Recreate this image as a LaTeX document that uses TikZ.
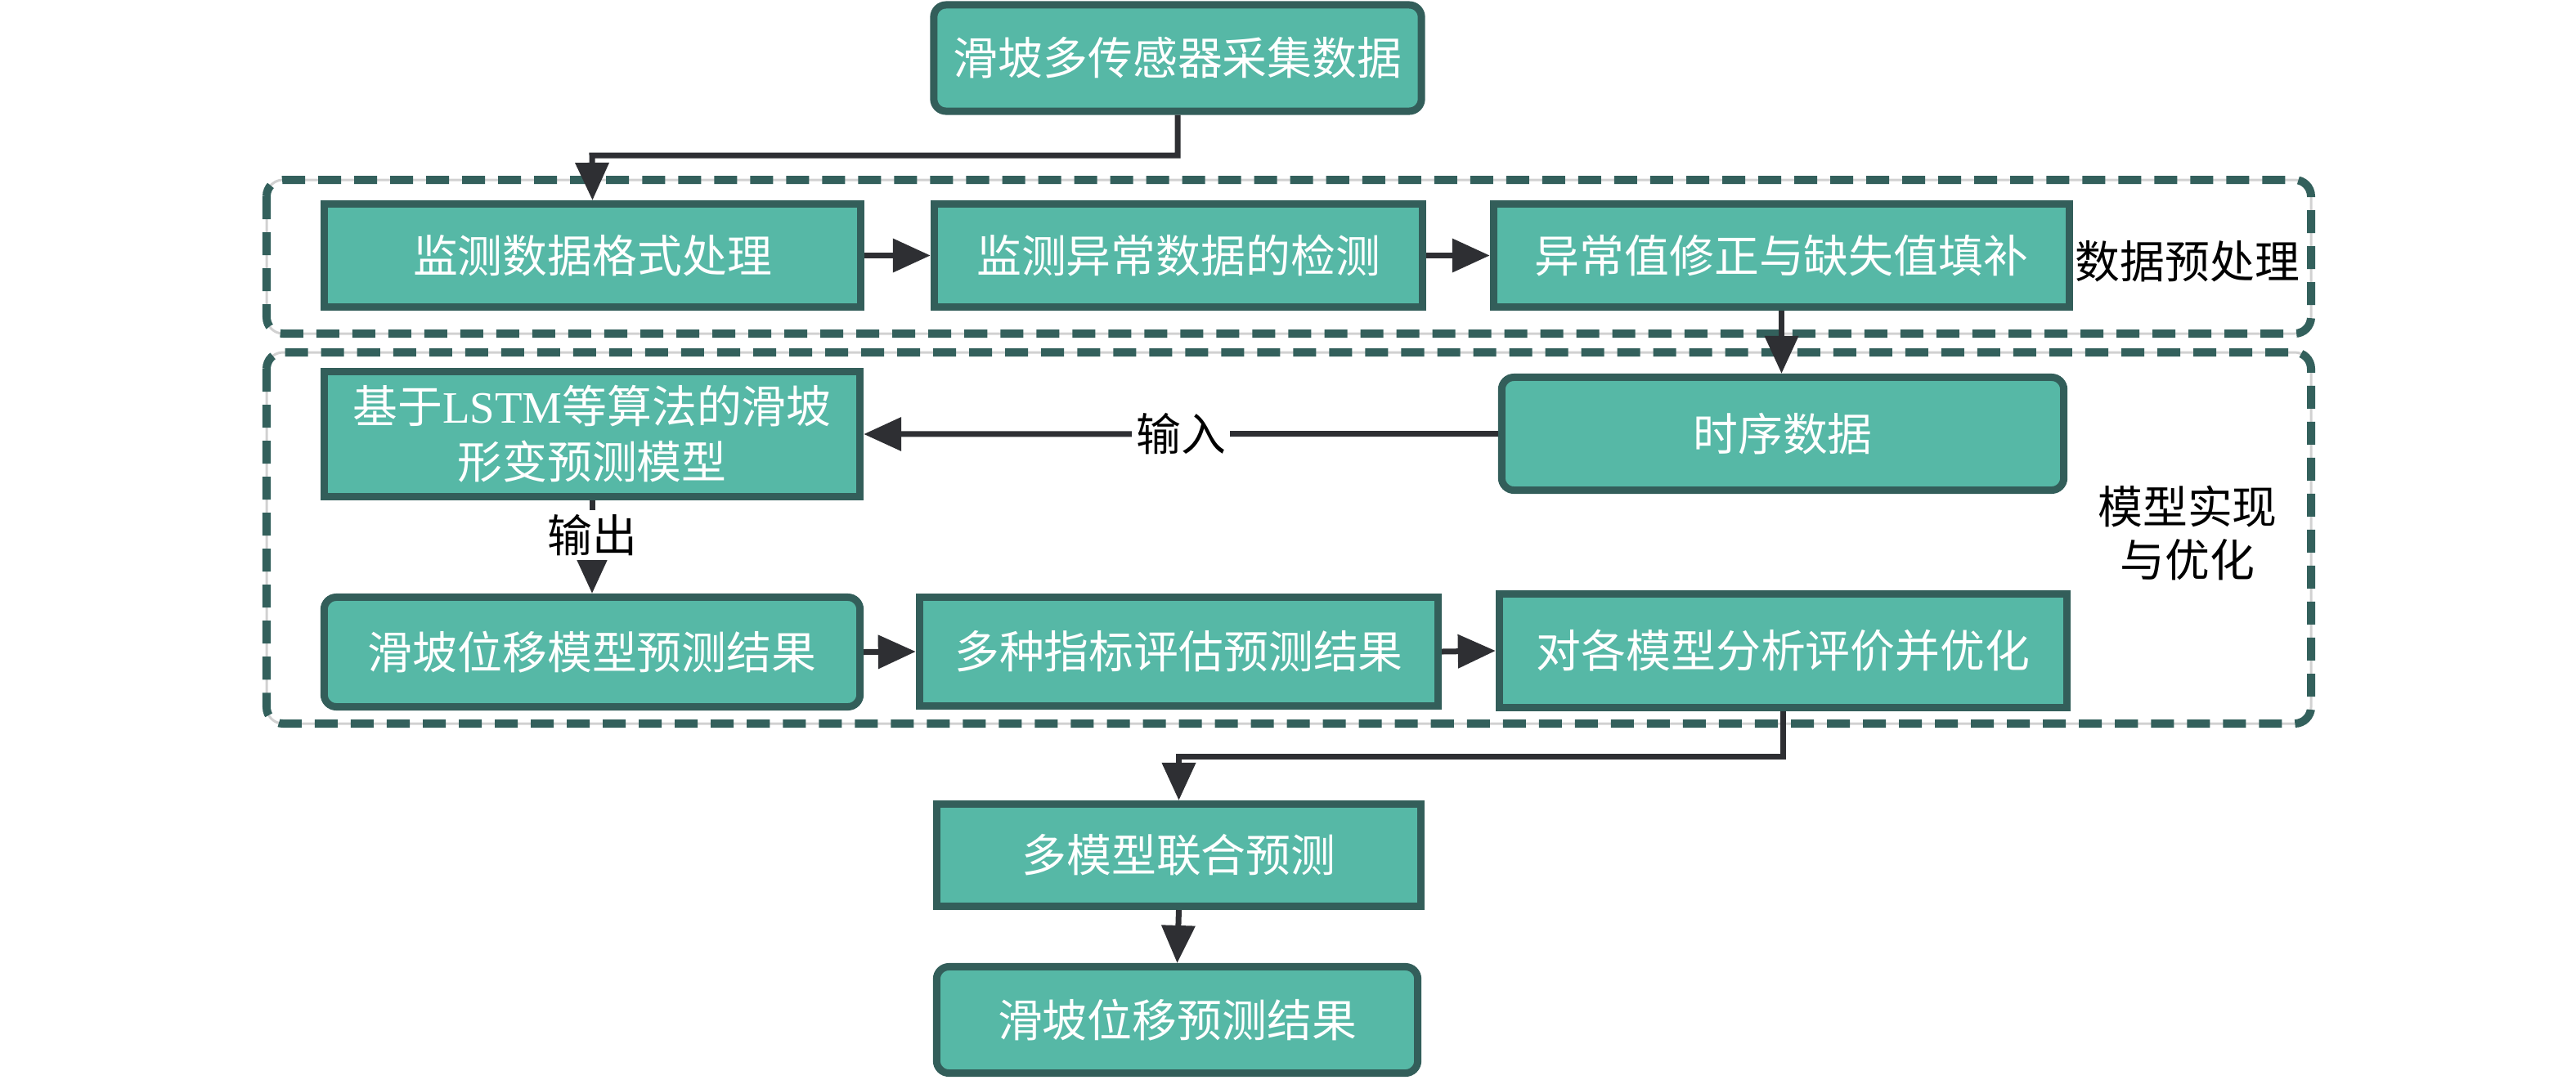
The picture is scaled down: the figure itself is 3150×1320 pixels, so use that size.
\documentclass[tikz,border=0pt]{standalone}
\usepackage{fontspec}
\usetikzlibrary{arrows.meta}
\newfontfamily\cjk{Noto Sans CJK SC}
\newfontfamily\latn{Liberation Serif}
\definecolor{boxfill}{HTML}{56B8A6}
\definecolor{boxbdr}{HTML}{335E5A}
\definecolor{arrowc}{HTML}{2E2F33}
\definecolor{grpc}{HTML}{33605C}
\tikzset{
  box/.style={draw=boxbdr, fill=boxfill, line width=0.09cm, text=white,
    font=\cjk\fontsize{15.6pt}{19.3pt}\selectfont, inner sep=0pt, align=center},
  rbox/.style={box, rounded corners=0.15cm},
  arr/.style={draw=arrowc, line width=0.07cm, -{Triangle[length=0.46cm,width=0.4cm]}},
  lbl/.style={font=\cjk\fontsize{15.6pt}{18.5pt}\selectfont, text=black, align=center, inner sep=0pt},
  grp/.style={draw=grpc, line width=0.1cm, dash pattern=on 0.28cm off 0.16cm, rounded corners=0.2cm},
  grpline/.style={draw=black!18, line width=0.03cm, rounded corners=0.2cm}
}
\begin{document}
\begin{tikzpicture}[x=0.01cm,y=-0.01cm]
\useasboundingbox (0,0) rectangle (3150,1320);

% groups
\draw[grpline] (326,220) rectangle (2826,408);
\draw[grp] (326,220) rectangle (2826,408);
\draw[grpline] (326,431) rectangle (2826,885);
\draw[grp] (326,431) rectangle (2826,885);

% nodes
\node[rbox, minimum width=5.96cm, minimum height=1.30cm] (A) at (1440,71) {滑坡多传感器采集数据};

\node[box, minimum width=6.56cm, minimum height=1.26cm] (B1) at (724.5,312.5) {监测数据格式处理};
\node[box, minimum width=5.97cm, minimum height=1.26cm] (B2) at (1441,312.5) {监测异常数据的检测};
\node[box, minimum width=7.04cm, minimum height=1.26cm] (B3) at (2178.5,312.5) {异常值修正与缺失值填补};
\node[lbl] (L1) at (2675,320) {数据预处理};

\node[box, minimum width=6.55cm, minimum height=1.53cm] (C1) at (724,531) {基于{\latn LSTM}等算法的滑坡\\形变预测模型};
\node[rbox, minimum width=6.87cm, minimum height=1.38cm] (C2) at (2180,530.5) {时序数据};

\node[rbox, minimum width=6.55cm, minimum height=1.34cm] (R1) at (724,797.5) {滑坡位移模型预测结果};
\node[box, minimum width=6.34cm, minimum height=1.33cm] (R2) at (1441.5,797) {多种指标评估预测结果};
\node[box, minimum width=6.94cm, minimum height=1.39cm] (R3) at (2180.5,796) {对各模型分析评价并优化};
\node[lbl] (L2) at (2675,652) {模型实现\\与优化};

\node[box, minimum width=5.92cm, minimum height=1.25cm] (D1) at (1441.5,1046) {多模型联合预测};
\node[rbox, minimum width=5.88cm, minimum height=1.30cm] (D2) at (1439.5,1247.5) {滑坡位移预测结果};

% junctions
\coordinate (j1) at (724,190);
\coordinate (j2) at (1441.5,925);

% connectors
\draw[arr] (A.south) |- (j1) -- (B1.north);
\draw[arr] (B1.east) -- (B2.west);
\draw[arr] (B2.east) -- (B3.west);
\draw[arr] (B3.south) -- (B3.south |- C2.north);
\draw[arr] (C2.west) -- node[lbl, fill=white, inner xsep=0.05cm, inner ysep=0.02cm, pos=0.5] {输入} (C1.east);
\draw[arr] (C1.south) -- node[lbl, fill=white, inner xsep=0.02cm, inner ysep=0.05cm, pos=0.37] {输出} (R1.north);
\draw[arr] (R1.east) -- (R2.west);
\draw[arr] (R2.east) -- (R3.west);
\draw[arr] (R3.south) |- (j2) -- (D1.north);
\draw[arr] (D1.south) -- (D2.north);
\end{tikzpicture}
\end{document}
